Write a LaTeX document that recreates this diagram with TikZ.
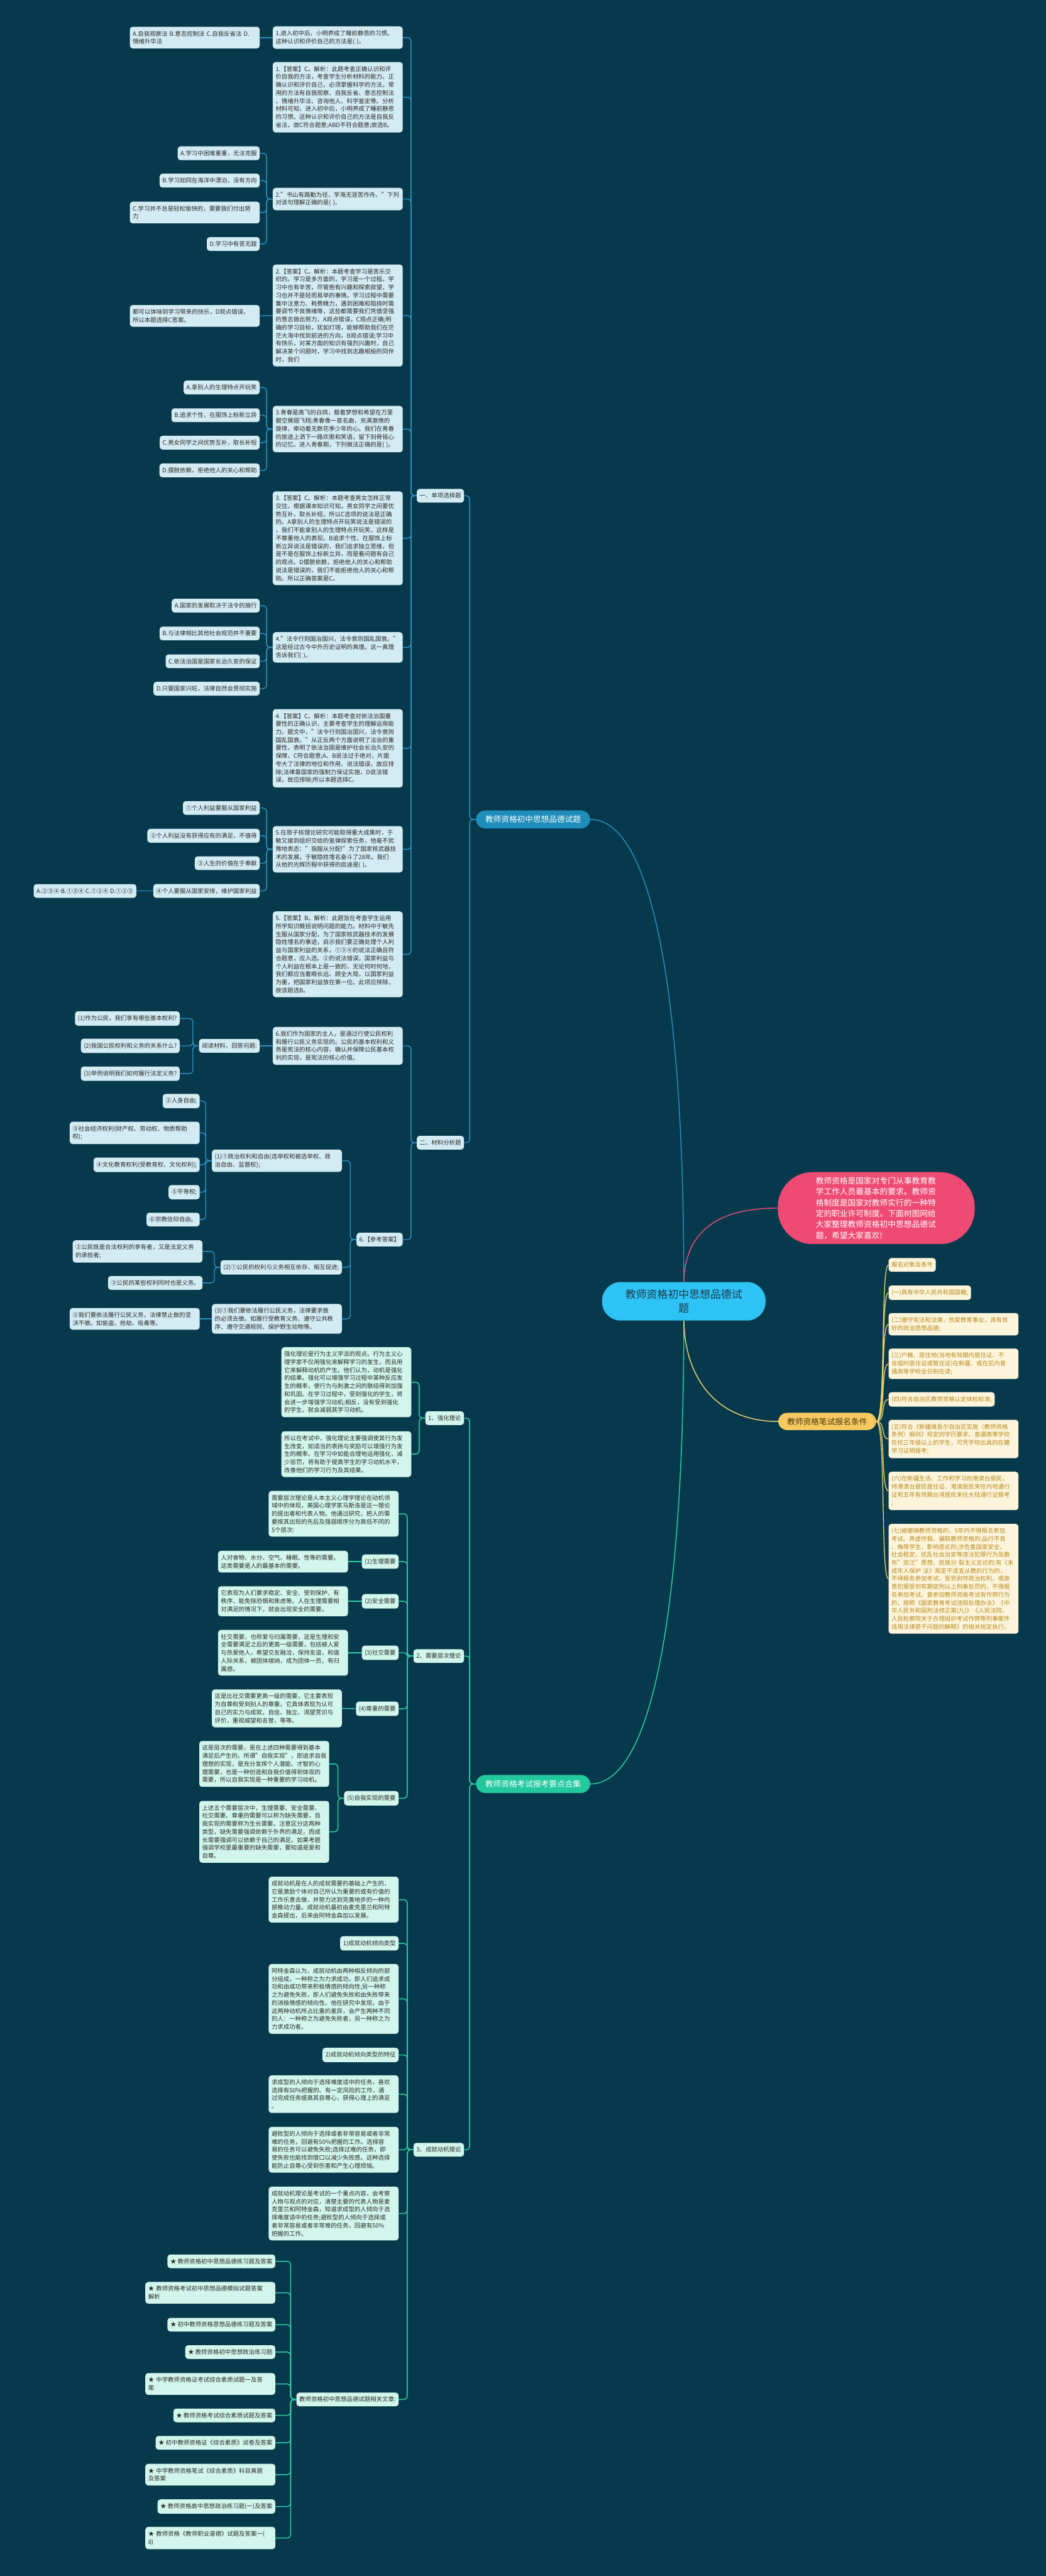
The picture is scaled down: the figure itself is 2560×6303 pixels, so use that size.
\documentclass[tikz,border=0pt]{standalone}
\usepackage{fontspec}
\setmainfont{Noto Sans CJK SC}
\definecolor{bgc}{HTML}{07394D}
\definecolor{tqfill}{HTML}{D3EBF3}
\definecolor{gqfill}{HTML}{D2F6EC}
\definecolor{yqfill}{HTML}{FDF5DB}
\definecolor{yqtext}{HTML}{B7891E}
\definecolor{boxtext}{HTML}{2A2A2A}
\definecolor{tline}{HTML}{2A8FBF}
\definecolor{gline}{HTML}{2DD0A5}
\definecolor{yline}{HTML}{F1D26B}
\definecolor{pline}{HTML}{E84C78}
\definecolor{tealbr}{HTML}{1E8DB9}
\definecolor{greenbr}{HTML}{22C99D}
\definecolor{rootfill}{HTML}{2DC3F4}
\definecolor{roottext}{HTML}{1F3A4A}
\definecolor{introfill}{HTML}{EF4A74}
\definecolor{condfill}{HTML}{F7C95F}
\definecolor{condtext}{HTML}{4D3D14}

\begin{document}
\begin{tikzpicture}[x=1pt,y=-1pt,
    box/.style={rounded corners=7pt, inner xsep=7pt, inner ysep=10pt, align=left, anchor=east,
      font=\fontsize{14.5}{19.6}\selectfont},
    tq/.style={box, fill=tqfill, text=boxtext},
    gq/.style={box, fill=gqfill, text=boxtext},
    yq/.style={box, fill=yqfill, text=yqtext, anchor=west},
    wide/.style={text width=304pt},
    branch/.style={rounded corners=23pt, inner xsep=23pt, inner ysep=13pt, text=white,
      font=\fontsize{19.5}{24}\selectfont},
    blink/.style={draw=tline, line width=2.2pt, rounded corners=8pt},
    glink/.style={draw=gline, line width=2.2pt, rounded corners=8pt},
    ylink/.style={draw=yline, line width=2pt}]

    % Background
    \fill[bgc] (0,0) rectangle (2560,6303);
    \useasboundingbox (0,0) rectangle (2560,6303);

    % Centre and main branches
    \node[fill=rootfill, text=roottext, rounded corners=45pt, minimum width=400pt, minimum height=94pt,
      align=center, font=\fontsize{26}{34}\selectfont] (root) at (1674,3184) {教师资格初中思想品德试\\题};
    \node[branch, fill=tealbr] (tb) at (1305,2005) {教师资格初中思想品德试题};
    \node[branch, fill=greenbr] (gb) at (1305,4365) {教师资格考试报考要点合集};
    \node[fill=introfill, text=white, rounded corners=85pt, text width=296pt, inner xsep=93pt, inner ysep=12pt,
      align=left, font=\fontsize{19.6}{26.7}\selectfont] (intro) at (2145,2956)
      {教师资格是国家对专门从事教育教\\学工作人员最基本的要求。教师资\\格制度是国家对教师实行的一种特\\定的职业许可制度。下面树图网给\\大家整理教师资格初中思想品德试\\题，希望大家喜欢!};
    \node[fill=condfill, text=condtext, rounded corners=22pt, inner xsep=22pt, inner ysep=12pt,
      font=\fontsize{19.6}{24}\selectfont] (cond) at (2025,3478) {教师资格笔试报名条件};

    % Single choice questions
    \node[tq] (one) at (1136,1213) {一、单项选择题};
    \node[tq, wide] (q1) at (986,92) {1.进入初中后，小明养成了睡前静思的习惯。\\这种认识和评价自己的方法是( )。};
    \node[tq, wide] (o1) at (636,92) {A.自我观察法 B.意志控制法 C.自我反省法 D.\\情绪升华法};
    \node[tq, wide] (s1) at (986,238) {1.【答案】C。解析：此题考查正确认识和评\\价自我的方法，考查学生分析材料的能力。正\\确认识和评价自己，必须掌握科学的方法，常\\用的方法有自我观察、自我反省、意志控制法\\、情绪升华法、咨询他人、科学鉴定等。分析\\材料可知，进入初中后，小明养成了睡前静思\\的习惯。这种认识和评价自己的方法是自我反\\省法，故C符合题意;ABD不符合题意;故选B。};
    \node[tq, wide] (q2) at (986,487) {2."书山有路勤为径，学海无涯苦作舟。"下列\\对该句理解正确的是( )。};
    \node[tq] (o2a) at (636,375) {A.学习中困难重重，无法克服};
    \node[tq] (o2b) at (636,442) {B.学习如同在海洋中漂泊，没有方向};
    \node[tq, wide] (o2c) at (636,520) {C.学习并不总是轻松愉快的，需要我们付出努\\力};
    \node[tq] (o2d) at (636,597) {D.学习中有苦无甜};
    \node[tq, wide] (s2) at (986,772) {2.【答案】C。解析：本题考查学习是苦乐交\\织的。学习是多方面的，学习是一个过程。学\\习中也有辛苦，尽管抱有兴趣和探索欲望，学\\习也并不是轻而易举的事情。学习过程中需要\\集中注意力、耗费精力，遇到困难和阻挠时需\\要调节不良情绪等，这些都需要我们凭借坚强\\的意志做出努力，A观点错误，C观点正确;明\\确的学习目标，犹如灯塔，能够帮助我们在茫\\茫大海中找到前进的方向，B观点错误;学习中\\有快乐，对某方面的知识有强烈兴趣时，自己\\解决某个问题时，学习中找到志趣相投的同伴\\时，我们};
    \node[tq, wide] (s2x) at (636,773) {都可以体味到学习带来的快乐，D观点错误，\\所以本题选择C答案。};
    \node[tq, wide] (q3) at (986,1050) {3.青春是高飞的白鸽，载着梦想和希望在万里\\碧空展翅飞翔;青春像一首名曲，充满激情的\\旋律，牵动着无数花季少年的心。我们在青春\\的旅途上洒下一路欢歌和笑语，留下刻骨铭心\\的记忆。进入青春期，下列做法正确的是( )。};
    \node[tq] (o3a) at (636,948) {A.拿别人的生理特点开玩笑};
    \node[tq] (o3b) at (636,1016) {B.追求个性，在服饰上标新立异};
    \node[tq] (o3c) at (636,1083) {C.男女同学之间优势互补，取长补短};
    \node[tq] (o3d) at (636,1151) {D.摆脱依赖，拒绝他人的关心和帮助};
    \node[tq, wide] (s3) at (986,1317) {3.【答案】C。解析：本题考查男女怎样正常\\交往。根据课本知识可知，男女同学之间要优\\势互补，取长补短，所以C选项的说法是正确\\的。A拿别人的生理特点开玩笑说法是错误的\\，我们不能拿别人的生理特点开玩笑，这样是\\不尊重他人的表现。B追求个性，在服饰上标\\新立异说法是错误的，我们追求独立思维，但\\是不是在服饰上标新立异，而是看问题有自己\\的观点。D摆脱依赖，拒绝他人的关心和帮助\\说法是错误的，我们不能拒绝他人的关心和帮\\助。所以正确答案是C。};
    \node[tq, wide] (q4) at (986,1584) {4."法令行则国治国兴，法令衰则国乱国衰。"\\这是经过古今中外历史证明的真理。这一真理\\告诉我们( )。};
    \node[tq] (o4a) at (636,1482) {A.国家的发展取决于法令的施行};
    \node[tq] (o4b) at (636,1550) {B.与法律相比其他社会规范并不重要};
    \node[tq] (o4c) at (636,1618) {C.依法治国是国家长治久安的保证};
    \node[tq] (o4d) at (636,1685) {D.只要国家兴旺，法律自然会贯彻实施};
    \node[tq, wide] (s4) at (986,1831) {4.【答案】C。解析：本题考查对依法治国重\\要性的正确认识，主要考查学生的理解运用能\\力。题文中，"法令行则国治国兴，法令衰则\\国乱国衰。"从正反两个方面说明了法治的重\\要性，表明了依法治国是维护社会长治久安的\\保障，C符合题意;A、B说法过于绝对，片面\\夸大了法律的地位和作用，说法错误，故应排\\除;法律靠国家的强制力保证实施，D说法错\\误，故应排除;所以本题选择C。};
    \node[tq, wide] (q5) at (986,2078) {5.在原子核理论研究可能取得重大成果时，于\\敏又接到组织交给的氢弹探索任务，他毫不犹\\豫地表态："我服从分配!"为了国家核武器技\\术的发展，于敏隐姓埋名奋斗了28年。我们\\从他的光辉历程中获得的启迪是( )。};
    \node[tq] (o5a) at (636,1977) {①个人利益要服从国家利益};
    \node[tq] (o5b) at (636,2045) {②个人利益没有获得应有的满足，不值得};
    \node[tq] (o5c) at (636,2112) {③人生的价值在于奉献};
    \node[tq] (o5d) at (636,2180) {④个人要服从国家安排，维护国家利益};
    \node[tq] (o5x) at (334,2180) {A.②③④ B.①③④ C.①②④ D.①②③};
    \node[tq, wide] (s5) at (986,2335) {5.【答案】B。解析：此题旨在考查学生运用\\所学知识概括说明问题的能力。材料中于敏先\\生服从国家分配，为了国家核武器技术的发展\\隐姓埋名的事迹，启示我们要正确处理个人利\\益与国家利益的关系，①③④的说法正确且符\\合题意，应入选。②的说法错误，国家利益与\\个人利益在根本上是一致的，无论何时何地，\\我们都应当着眼长远、顾全大局，以国家利益\\为重，把国家利益放在第一位。此项应排除，\\故该题选B。};

    % Material analysis
    \node[tq] (two) at (1136,2796) {二、材料分析题};
    \node[tq, wide] (q6) at (986,2559) {6.我们作为国家的主人，是通过行使公民权利\\和履行公民义务实现的。公民的基本权利和义\\务是宪法的核心内容，确认并保障公民基本权\\利的实现，是宪法的核心价值。};
    \node[tq] (rd) at (636,2559) {阅读材料，回答问题:};
    \node[tq] (rd1) at (440,2492) {(1)作为公民，我们享有哪些基本权利?};
    \node[tq] (rd2) at (440,2559) {(2)我国公民权利和义务的关系什么?};
    \node[tq] (rd3) at (440,2627) {(3)举例说明我们如何履行法定义务?};
    \node[tq] (ref) at (986,3033) {6.【参考答案】};
    \node[tq, wide] (p1) at (837,2840) {(1)①政治权利和自由(选举权和被选举权、政\\治自由、监督权);};
    \node[tq] (p1a) at (489,2694) {②人身自由;};
    \node[tq, wide] (p1b) at (489,2772) {③社会经济权利(财产权、劳动权、物质帮助\\权);};
    \node[tq] (p1c) at (489,2850) {④文化教育权利(受教育权、文化权利);};
    \node[tq] (p1d) at (489,2917) {⑤平等权;};
    \node[tq] (p1e) at (489,2984) {⑥宗教信仰自由。};
    \node[tq] (p2) at (837,3101) {(2)①公民的权利与义务相互依存、相互促进;};
    \node[tq, wide] (p2a) at (496,3062) {②公民既是合法权利的享有者，又是法定义务\\的承担者;};
    \node[tq] (p2b) at (496,3139) {③公民的某些权利同时也是义务。};
    \node[tq, wide] (p3) at (837,3227) {(3)①我们要依法履行公民义务，法律要求做\\的必须去做。如履行受教育义务、遵守公共秩\\序、遵守交通规则、保护野生动物等。};
    \node[tq, wide] (p3a) at (489,3227) {②我们要依法履行公民义务，法律禁止做的坚\\决不做。如偷盗、抢劫、吸毒等。};

    % Exam key points
    \node[gq] (g1) at (1136,3470) {1、强化理论};
    \node[gq, wide] (g1a) at (1007,3382) {强化理论是行为主义学派的观点。行为主义心\\理学家不仅用强化来解释学习的发生，而且用\\它来解释动机的产生。他们认为，动机是强化\\的结果。强化可以增强学习过程中某种反应发\\生的概率，使行为与刺激之间的联结得到加强\\和巩固。在学习过程中，受到强化的学生，将\\会进一步增强学习动机;相反，没有受到强化\\的学生，就会减弱其学习动机。};
    \node[gq, wide] (g1b) at (1007,3558) {所以在考试中，强化理论主要强调使其行为发\\生改变，如适当的表扬与奖励可以增强行为发\\生的概率。在学习中如能合理地运用强化，减\\少惩罚，将有助于提高学生的学习动机水平，\\改善他们的学习行为及其结果。};
    \node[gq] (g2) at (1136,4052) {2、需要层次理论};
    \node[gq, wide] (g2a) at (976,3704) {需要层次理论是人本主义心理学理论在动机领\\域中的体现，美国心理学家马斯洛是这一理论\\的提出者和代表人物。他通过研究，把人的需\\要按其出现的先后及强弱顺序分为高低不同的\\5个层次:};
    \node[gq] (n1) at (976,3821) {(1)生理需要};
    \node[gq, wide] (n1a) at (852,3821) {人对食物、水分、空气、睡眠、性等的需要。\\这类需要是人的最基本的需要。};
    \node[gq] (n2) at (976,3918) {(2)安全需要};
    \node[gq, wide] (n2a) at (852,3918) {它表现为人们要求稳定、安全、受到保护、有\\秩序、能免除恐惧和焦虑等。人在生理需要相\\对满足的情况下，就会出现安全的需要。};
    \node[gq] (n3) at (976,4044) {(3)社交需要};
    \node[gq, wide] (n3a) at (852,4044) {社交需要，也称爱与归属需要，这是生理和安\\全需要满足之后的更高一级需要，包括被人爱\\与热爱他人，希望交友融洽，保持友谊，和谐\\人际关系，被团体接纳，成为团体一员，有归\\属感。};
    \node[gq] (n4) at (976,4181) {(4)尊重的需要};
    \node[gq, wide] (n4a) at (837,4180) {这是比社交需要更高一级的需要，它主要表现\\为自尊和受到别人的尊重。它具体表现为认可\\自己的实力与成就，自信、独立、渴望赏识与\\评价，重视威望和名誉，等等。};
    \node[gq] (n5) at (976,4400) {(5)自我实现的需要};
    \node[gq, wide] (n5a) at (806,4316) {这是层次的需要，是在上述四种需要得到基本\\满足后产生的。所谓"自我实现"，即追求自我\\理想的实现，是充分发挥个人潜能、才智的心\\理需要，也是一种创造和自我价值得到体现的\\需要，所以自我实现是一种重要的学习动机。};
    \node[gq, wide] (n5b) at (806,4482) {上述五个需要层次中，生理需要、安全需要、\\社交需要、尊重的需要可以称为缺失需要，自\\我实现的需要称为生长需要。注意区分这两种\\类型，缺失需要强调依赖于外界的满足，而成\\长需要强调可以依赖于自己的满足。如果考题\\强调学校里最重要的缺失需要，要知道是爱和\\自尊。};
    \node[gq] (g3) at (1136,5260) {3、成就动机理论};
    \node[gq, wide] (m1) at (976,4648) {成就动机是在人的成就需要的基础上产生的，\\它是激励个体对自己所认为重要的或有价值的\\工作乐意去做，并努力达到完善地步的一种内\\部推动力量。成就动机最初由麦克里兰和阿特\\金森提出，后来由阿特金森加以发展。};
    \node[gq] (m2) at (976,4755) {1)成就动机倾向类型};
    \node[gq, wide] (m3) at (976,4891) {阿特金森认为，成就动机由两种相反倾向的部\\分组成，一种称之为力求成功，即人们追求成\\功和由成功带来积极情感的倾向性;另一种称\\之为避免失败，即人们避免失败和由失败带来\\的消极情感的倾向性。他在研究中发现，由于\\这两种动机所占比重的差异，会产生两种不同\\的人：一种称之为避免失败者，另一种称之为\\力求成功者。};
    \node[gq] (m4) at (976,5028) {2)成就动机倾向类型的特征};
    \node[gq, wide] (m5) at (976,5124) {求成型的人倾向于选择难度适中的任务，喜欢\\选择有50\%把握的、有一定风险的工作，通\\过完成任务提高其自尊心，获得心理上的满足\\。};
    \node[gq, wide] (m6) at (976,5260) {避败型的人倾向于选择或者非常容易或者非常\\难的任务，回避有50\%把握的工作。选择容\\易的任务可以避免失败;选择过难的任务，即\\使失败也能找到借口以减少失败感。这种选择\\能防止自尊心受到伤害和产生心理烦恼。};
    \node[gq, wide] (m7) at (976,5416) {成就动机理论是考试的一个重点内容，会考察\\人物与观点的对应，清楚主要的代表人物是麦\\克里兰和阿特金森，知道求成型的人倾向于选\\择难度适中的任务;避败型的人倾向于选择或\\者非常容易或者非常难的任务，回避有50\%\\把握的工作。};
    \node[gq] (rel) at (976,5871) {教师资格初中思想品德试题相关文章:};
    \node[gq] (r1) at (674,5533) {★ 教师资格初中思想品德练习题及答案};
    \node[gq, wide] (r2) at (674,5610) {★ 教师资格考试初中思想品德模拟试题答案\\解析};
    \node[gq] (r3) at (674,5688) {★ 初中教师资格思想品德练习题及答案};
    \node[gq] (r4) at (674,5755) {★ 教师资格初中思想政治练习题};
    \node[gq, wide] (r5) at (674,5833) {★ 中学教师资格证考试综合素质试题一及答\\案};
    \node[gq] (r6) at (674,5910) {★ 教师资格考试综合素质试题及答案};
    \node[gq] (r7) at (674,5977) {★ 初中教师资格证《综合素质》试卷及答案};
    \node[gq, wide] (r8) at (674,6055) {★ 中学教师资格笔试《综合素质》科目真题\\及答案};
    \node[gq] (r9) at (674,6133) {★ 教师资格高中思想政治练习题(一)及答案};
    \node[gq, wide] (r10) at (674,6210) {★ 教师资格《教师职业道德》试题及答案一(\\8)};

    % Registration conditions
    \node[yq] (c0) at (2175,3095) {报名对象及条件};
    \node[yq] (c1) at (2175,3163) {(一)具有中华人民共和国国籍;};
    \node[yq, wide] (c2) at (2175,3240) {(二)遵守宪法和法律，热爱教育事业，具有良\\好的政治思想品德;};
    \node[yq, wide] (c3) at (2175,3337) {(三)户籍、居住地(当地有效期内居住证，不\\含临时居住证或暂住证)在新疆，或在区内普\\通高等学校全日制在读;};
    \node[yq] (c4) at (2175,3424) {(四)符合自治区教师资格认定体检标准;};
    \node[yq, wide] (c5) at (2175,3521) {(五)符合《新疆维吾尔自治区实施〈教师资格\\条例〉细则》规定的学历要求。普通高等学校\\在校三年级以上的学生，可凭学校出具的在籍\\学习证明报考;};
    \node[yq, wide] (c6) at (2175,3648) {(六)在新疆生活、工作和学习的港澳台居民，\\持港澳台居民居住证、港澳居民来往内地通行\\证和五年有效期台湾居民来往大陆通行证报考\\;};
    \node[yq, wide] (c7) at (2175,3863) {(七)被撤销教师资格的，5年内不得报名参加\\考试。弄虚作假、骗取教师资格的;品行不良\\、侮辱学生，影响恶劣的;涉危害国家安全、\\社会稳定，扰乱社会治安等违法犯罪行为及散\\布"双泛"思想、民族分 裂主义言论的;有《未\\成年人保护 法》规定不适宜从教的行为的，\\不得报名参加考试。受到剥夺政治权利，或故\\意犯罪受到有期徒刑以上刑事处罚的，不得报\\名参加考试。曾参加教师资格考试有作弊行为\\的，按照《国家教育考试违规处理办法》《中\\华人民共和国刑法修正案(九)》《人民法院、\\人民检察院关于办理组织考试作弊等刑事案件\\适用法律若干问题的解释》的相关规定执行。};

    % Draw lines from the centre
    \draw[tline, line width=2.2pt] (tb.east) .. controls (1600,2005) and (1674,2450) .. (root.north);
    \draw[gline, line width=2.2pt] (gb.east) .. controls (1600,4365) and (1674,3918) .. (root.south);
    \draw[pline, line width=2.2pt] (root.north) .. controls (1677,3010) and (1760,2956) .. (intro.west);
    \draw[yline, line width=2.2pt] (root.south) .. controls (1677,3380) and (1760,3478) .. (cond.west);

    % Draw lines, teal branch
    \foreach \c in {one,two} \draw[blink] (tb.west) -- ++(-15,0) |- (\c.east);
    \foreach \c in {q1,s1,q2,s2,q3,s3,q4,s4,q5,s5} \draw[blink] (one.west) -- ++(-14,0) |- (\c.east);
    \draw[blink] (q1.west) -- (o1.east);
    \foreach \c in {o2a,o2b,o2c,o2d} \draw[blink] (q2.west) -- ++(-15,0) |- (\c.east);
    \draw[blink] (s2.west) -- (s2x.east);
    \foreach \c in {o3a,o3b,o3c,o3d} \draw[blink] (q3.west) -- ++(-15,0) |- (\c.east);
    \foreach \c in {o4a,o4b,o4c,o4d} \draw[blink] (q4.west) -- ++(-15,0) |- (\c.east);
    \foreach \c in {o5a,o5b,o5c,o5d} \draw[blink] (q5.west) -- ++(-15,0) |- (\c.east);
    \draw[blink] (o5d.west) -- (o5x.east);
    \foreach \c in {q6,ref} \draw[blink] (two.west) -- ++(-14,0) |- (\c.east);
    \draw[blink] (q6.west) -- (rd.east);
    \foreach \c in {rd1,rd2,rd3} \draw[blink] (rd.west) -- ++(-15,0) |- (\c.east);
    \foreach \c in {p1,p2,p3} \draw[blink] (ref.west) -- ++(-15,0) |- (\c.east);
    \foreach \c in {p1a,p1b,p1c,p1d,p1e} \draw[blink] (p1.west) -- ++(-15,0) |- (\c.east);
    \foreach \c in {p2a,p2b} \draw[blink] (p2.west) -- ++(-15,0) |- (\c.east);
    \draw[blink] (p3.west) -- (p3a.east);

    % Draw lines, green branch
    \foreach \c in {g1,g2,g3} \draw[glink] (gb.west) -- ++(-15,0) |- (\c.east);
    \foreach \c in {g1a,g1b} \draw[glink] (g1.west) -- ++(-15,0) |- (\c.east);
    \foreach \c in {g2a,n1,n2,n3,n4,n5} \draw[glink] (g2.west) -- ++(-15,0) |- (\c.east);
    \foreach \c/\d in {n1/n1a,n2/n2a,n3/n3a,n4/n4a} \draw[glink] (\c.west) -- (\d.east);
    \foreach \c in {n5a,n5b} \draw[glink] (n5.west) -- ++(-15,0) |- (\c.east);
    \foreach \c in {m1,m2,m3,m4,m5,m6,m7,rel} \draw[glink] (g3.west) -- ++(-15,0) |- (\c.east);
    \foreach \c in {r1,r2,r3,r4,r5,r6,r7,r8,r9,r10} \draw[glink] (rel.west) -- ++(-14,0) |- (\c.east);

    % Draw lines, conditions
    \foreach \c in {c0,c1,c2,c3,c4,c5,c6,c7}
      \draw[ylink] (cond.east) .. controls +(24,0) and +(-20,0) .. (\c.west);
  \end{tikzpicture}
\end{document}
